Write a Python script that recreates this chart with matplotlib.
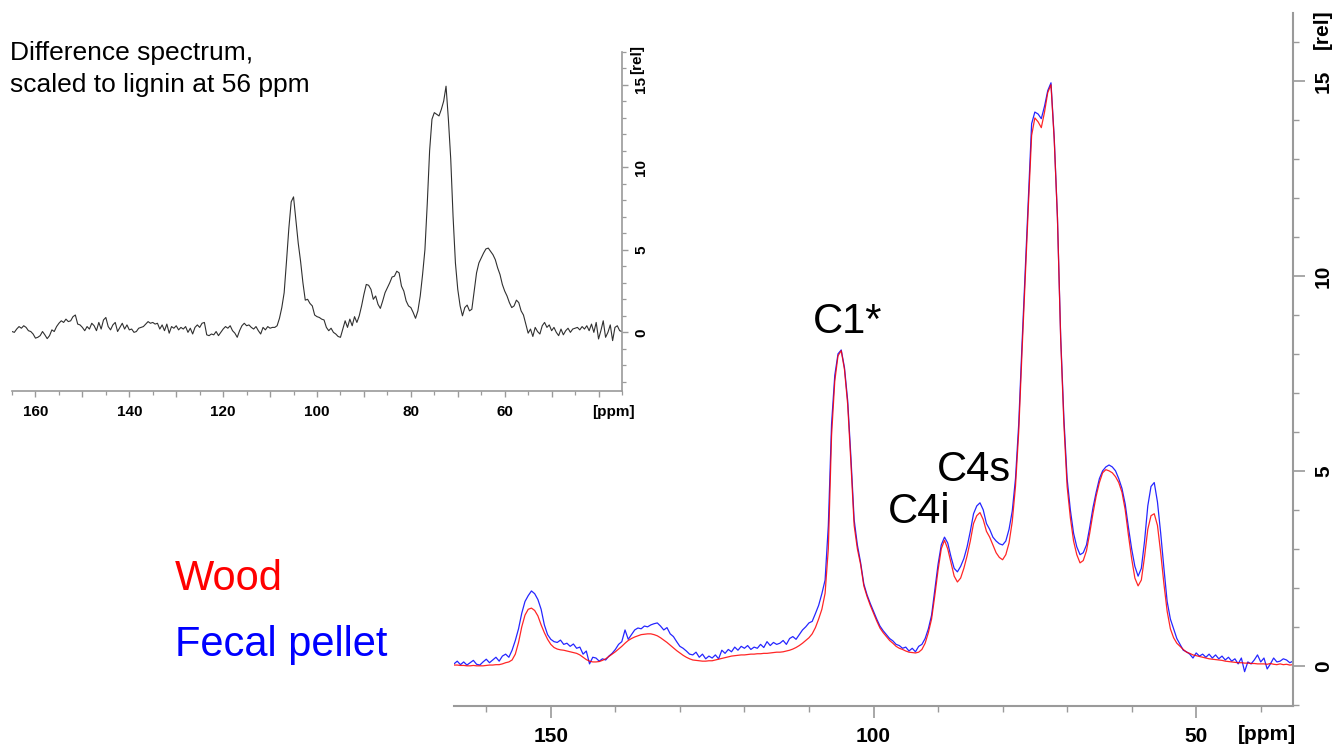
import numpy as np
import matplotlib
matplotlib.use("Agg")
import matplotlib.pyplot as plt
from matplotlib.ticker import FixedLocator, MultipleLocator, NullFormatter, FuncFormatter

plt.rcParams['font.family'] = ['Liberation Sans', 'DejaVu Sans']

# ---------------- data (chemical shift grid, 165 -> 35 ppm in 0.5 ppm steps) ----------------
PPM_START, PPM_END, PPM_STEP = 165.0, 35.0, 0.5

wood = [
    0.02, 0.02, 0.01, 0.01, 0.00, 0.00, 0.01, 0.00, 0.00, 0.00,   # 165.0-160.5
    0.01, 0.02, 0.02, 0.03, 0.03, 0.05, 0.08, 0.10, 0.15, 0.30,   # 160.0-155.5
    0.60, 1.00, 1.30, 1.45, 1.48, 1.42, 1.28, 1.05, 0.85, 0.68,   # 155.0-150.5
    0.55, 0.47, 0.43, 0.41, 0.40, 0.38, 0.36, 0.34, 0.32, 0.28,   # 150.0-145.5
    0.22, 0.16, 0.12, 0.10, 0.10, 0.11, 0.14, 0.18, 0.24, 0.30,   # 145.0-140.5
    0.36, 0.43, 0.50, 0.58, 0.65, 0.70, 0.74, 0.77, 0.80, 0.81,   # 140.0-135.5
    0.82, 0.82, 0.80, 0.77, 0.72, 0.66, 0.60, 0.53, 0.46, 0.39,   # 135.0-130.5
    0.33, 0.27, 0.22, 0.18, 0.15, 0.14, 0.13, 0.12, 0.12, 0.13,   # 130.0-125.5
    0.13, 0.15, 0.17, 0.19, 0.21, 0.23, 0.25, 0.26, 0.27, 0.28,   # 125.0-120.5
    0.28, 0.29, 0.30, 0.30, 0.31, 0.31, 0.32, 0.32, 0.33, 0.34,   # 120.0-115.5
    0.35, 0.35, 0.36, 0.38, 0.40, 0.43, 0.47, 0.52, 0.58, 0.65,   # 115.0-110.5
    0.72, 0.82, 0.98, 1.20, 1.45, 1.86, 3.00, 5.90, 7.30, 7.95,   # 110.0-105.5
    8.08, 7.60, 6.70, 5.20, 3.60, 3.00, 2.60, 2.05, 1.78, 1.55,   # 105.0-100.5
    1.35, 1.15, 0.97, 0.85, 0.75, 0.65, 0.58, 0.50, 0.45, 0.42,   # 100.0-95.5
    0.38, 0.35, 0.34, 0.33, 0.35, 0.42, 0.58, 0.85, 1.20, 1.80,   # 95.0-90.5
    2.45, 3.00, 3.22, 3.00, 2.65, 2.30, 2.15, 2.25, 2.50, 2.82,   # 90.0-85.5
    3.20, 3.65, 3.85, 3.93, 3.75, 3.45, 3.30, 3.10, 2.90, 2.78,   # 85.0-80.5
    2.72, 2.85, 3.15, 3.70, 4.60, 6.00, 8.00, 9.90, 11.80, 13.60, # 80.0-75.5
    14.05, 13.95, 13.80, 14.20, 14.70, 14.90, 13.50, 11.50, 8.40, 6.20,  # 75.0-70.5
    4.60, 3.80, 3.20, 2.85, 2.64, 2.70, 2.95, 3.40, 3.90, 4.35,   # 70.0-65.5
    4.70, 4.95, 5.03, 5.00, 4.95, 4.85, 4.70, 4.45, 4.00, 3.35,   # 65.0-60.5
    2.75, 2.25, 2.05, 2.20, 2.80, 3.50, 3.85, 3.90, 3.60, 2.90,   # 60.0-55.5
    2.10, 1.40, 0.95, 0.72, 0.58, 0.50, 0.42, 0.35, 0.32, 0.28,   # 55.0-50.5
    0.26, 0.24, 0.22, 0.20, 0.18, 0.17, 0.16, 0.15, 0.14, 0.12,   # 50.0-45.5
    0.11, 0.10, 0.09, 0.08, 0.08, 0.07, 0.07, 0.06, 0.06, 0.05,   # 45.0-40.5
    0.05, 0.05, 0.04, 0.06, 0.04, 0.03, 0.05, 0.03, 0.04, 0.02,   # 40.0-35.5
    0.03,                                                         # 35.0
]

fecal_pellet = [
    0.05, 0.12, 0.03, 0.10, 0.02, 0.08, 0.14, 0.04, 0.02, 0.10,   # 165.0-160.5
    0.17, 0.08, 0.15, 0.22, 0.12, 0.25, 0.30, 0.22, 0.40, 0.65,   # 160.0-155.5
    0.95, 1.35, 1.65, 1.80, 1.92, 1.85, 1.70, 1.45, 1.05, 0.80,   # 155.0-150.5
    0.68, 0.62, 0.60, 0.66, 0.55, 0.58, 0.50, 0.56, 0.45, 0.48,   # 150.0-145.5
    0.30, 0.38, 0.05, 0.22, 0.20, 0.12, 0.18, 0.15, 0.25, 0.32,   # 145.0-140.5
    0.42, 0.55, 0.62, 0.92, 0.68, 0.80, 0.92, 0.97, 0.95, 1.02,   # 140.0-135.5
    1.00, 1.05, 1.08, 1.10, 1.02, 0.92, 0.98, 0.82, 0.75, 0.62,   # 135.0-130.5
    0.50, 0.45, 0.38, 0.30, 0.28, 0.35, 0.22, 0.30, 0.18, 0.25,   # 130.0-125.5
    0.20, 0.28, 0.18, 0.40, 0.32, 0.42, 0.36, 0.48, 0.40, 0.50,   # 125.0-120.5
    0.45, 0.52, 0.42, 0.48, 0.45, 0.55, 0.47, 0.62, 0.52, 0.60,   # 120.0-115.5
    0.55, 0.58, 0.65, 0.55, 0.70, 0.75, 0.68, 0.80, 0.92, 1.00,   # 115.0-110.5
    1.10, 1.14, 1.34, 1.55, 1.85, 2.20, 3.60, 6.20, 7.45, 8.00,   # 110.0-105.5
    8.10, 7.65, 6.80, 5.35, 3.75, 3.10, 2.65, 2.10, 1.82, 1.60,   # 105.0-100.5
    1.40, 1.20, 1.02, 0.90, 0.80, 0.70, 0.64, 0.55, 0.52, 0.45,   # 100.0-95.5
    0.48, 0.38, 0.45, 0.36, 0.50, 0.55, 0.70, 0.95, 1.30, 1.95,   # 95.0-90.5
    2.60, 3.10, 3.30, 3.15, 2.80, 2.50, 2.41, 2.55, 2.75, 3.05,   # 90.0-85.5
    3.45, 3.90, 4.10, 4.18, 4.00, 3.65, 3.50, 3.30, 3.20, 3.13,   # 85.0-80.5
    3.10, 3.20, 3.50, 3.97, 4.80, 6.20, 8.20, 10.10, 12.00, 13.90,  # 80.0-75.5
    14.20, 14.15, 14.03, 14.35, 14.75, 14.95, 13.55, 11.50, 8.45, 6.35,  # 75.0-70.5
    4.80, 4.00, 3.40, 3.05, 2.85, 2.90, 3.10, 3.55, 4.05, 4.45,   # 70.0-65.5
    4.80, 5.00, 5.10, 5.15, 5.10, 5.00, 4.80, 4.55, 4.15, 3.55,   # 65.0-60.5
    3.00, 2.55, 2.30, 2.50, 3.20, 4.10, 4.60, 4.70, 4.20, 3.40,   # 60.0-55.5
    2.50, 1.65, 1.20, 0.95, 0.70, 0.55, 0.40, 0.36, 0.30, 0.20,   # 55.0-50.5
    0.33, 0.25, 0.30, 0.22, 0.30, 0.20, 0.28, 0.18, 0.25, 0.15,   # 50.0-45.5
    0.22, 0.12, 0.18, 0.05, 0.20, -0.15, 0.10, 0.05, 0.15, 0.28,  # 45.0-40.5
    0.10, 0.20, -0.08, 0.05, 0.20, 0.10, 0.12, 0.18, 0.15, 0.08,  # 40.0-35.5
    0.12,                                                         # 35.0
]

difference = [
    0.05, 0.00, 0.20, 0.35, 0.25, 0.40, 0.30, 0.10, 0.05, -0.10,  # 165.0-160.5
    -0.35, -0.30, -0.20, 0.05, -0.15, -0.38, -0.20, 0.15, 0.05, 0.35,  # 160.0-155.5
    0.55, 0.70, 0.60, 0.80, 0.65, 0.70, 0.95, 1.05, 0.50, 0.45,   # 155.0-150.5
    0.30, 0.10, 0.35, 0.20, 0.55, 0.40, 0.10, 0.60, 0.20, 0.75,   # 150.0-145.5
    0.90, 0.35, 0.15, 0.45, 0.60, 0.05, 0.30, 0.55, 0.20, 0.45,   # 145.0-140.5
    0.15, 0.20, 0.00, 0.05, 0.25, 0.30, 0.35, 0.50, 0.65, 0.55,   # 140.0-135.5
    0.60, 0.50, 0.55, 0.20, 0.45, 0.10, 0.50, -0.05, 0.35, 0.25,  # 135.0-130.5
    0.40, 0.15, 0.30, 0.20, 0.35, 0.00, 0.25, -0.10, 0.30, 0.45,  # 130.0-125.5
    0.30, 0.55, 0.60, -0.15, -0.20, -0.10, -0.15, 0.05, -0.20, 0.00,  # 125.0-120.5
    0.20, 0.35, 0.25, 0.40, 0.10, -0.05, -0.30, 0.10, 0.40, 0.55,  # 120.0-115.5
    0.40, 0.45, 0.30, 0.20, 0.35, 0.10, -0.10, 0.30, 0.15, 0.35,  # 115.0-110.5
    0.25, 0.30, 0.30, 0.40, 0.85, 1.50, 2.40, 4.30, 6.30, 7.90,   # 110.0-105.5
    8.20, 6.80, 5.40, 4.30, 3.00, 1.95, 2.00, 1.75, 1.60, 1.05,   # 105.0-100.5
    0.95, 0.90, 0.80, 0.75, 0.30, 0.10, 0.25, 0.00, -0.10, -0.25,  # 100.0-95.5
    -0.30, 0.20, 0.70, 0.30, 0.80, 0.40, 0.95, 0.60, 1.00, 1.60,  # 95.0-90.5
    2.30, 2.90, 2.85, 2.60, 2.00, 2.20, 1.70, 1.45, 1.90, 2.40,   # 90.0-85.5
    2.70, 3.00, 3.35, 3.40, 3.70, 3.60, 2.80, 2.50, 1.90, 1.60,   # 85.0-80.5
    1.50, 1.20, 0.85, 1.30, 2.20, 3.50, 5.00, 7.80, 11.00, 12.90,  # 80.0-75.5
    13.30, 13.20, 13.10, 13.50, 14.00, 14.90, 12.90, 10.50, 7.00, 4.20,  # 75.0-70.5
    2.60, 1.60, 1.00, 1.50, 1.65, 1.30, 1.40, 2.50, 3.60, 4.20,   # 70.0-65.5
    4.50, 4.80, 5.05, 5.10, 4.90, 4.70, 4.40, 3.90, 3.50, 2.90,   # 65.0-60.5
    2.50, 2.20, 1.80, 1.50, 1.60, 1.95, 1.80, 1.30, 1.05, 0.50,   # 60.0-55.5
    -0.05, 0.20, -0.25, 0.30, 0.05, -0.10, 0.40, 0.60, 0.30, 0.45,  # 55.0-50.5
    0.10, 0.30, 0.00, -0.20, 0.20, -0.15, 0.10, 0.25, 0.00, 0.20,  # 50.0-45.5
    0.25, 0.30, 0.15, 0.35, 0.20, 0.40, 0.10, 0.50, 0.00, 0.60,   # 45.0-40.5
    -0.40, 0.10, 0.70, -0.30, 0.00, 0.45, -0.50, 0.30, 0.40, 0.10,  # 40.0-35.5
    0.05,                                                         # 35.0
]

main_xticks_labeled = [150, 100, 50]
inset_xticks_labeled = [160, 140, 120, 100, 80, 60]
yticks_labeled = [0, 5, 10, 15]

series_labels = ["Wood", "Fecal pellet"]
peak_labels = ["C1*", "C4i", "C4s"]
peak_label_pos = [(104.0, 8.54), (93.0, 3.67), (84.4, 4.74)]

# ---------------- figure ----------------
W, H = 1341, 751
fig = plt.figure(figsize=(W / 100, H / 100), dpi=100)

n = int(round((PPM_START - PPM_END) / PPM_STEP)) + 1
ppm = PPM_START - PPM_STEP * np.arange(n)
assert len(wood) == n and len(fecal_pellet) == n and len(difference) == n

SPINE = '#9a9a9a'

def px_axes(l, t, r, b):
    return fig.add_axes([l / W, 1 - b / H, (r - l) / W, (b - t) / H])

def style(ax, big):
    ax.set_facecolor('none')
    for s in ('top', 'left'):
        ax.spines[s].set_visible(False)
    for s in ('bottom', 'right'):
        ax.spines[s].set_color(SPINE)
        ax.spines[s].set_linewidth(1.5 if big else 1.2)
    ax.yaxis.tick_right()
    ax.xaxis.tick_bottom()

# main axes
ax = px_axes(454, 13, 1293, 706)
style(ax, True)
ax.plot(ppm, fecal_pellet, color='#0000ff', lw=0.9, alpha=0.85)
ax.plot(ppm, wood, color='#ff0000', lw=0.9, alpha=0.85)
ax.set_xlim(PPM_START, PPM_END)
ax.set_ylim(-1.03, 16.74)
ax.xaxis.set_major_locator(FixedLocator(main_xticks_labeled))
ax.xaxis.set_minor_locator(MultipleLocator(10))
ax.yaxis.set_major_locator(FixedLocator(yticks_labeled))
ax.yaxis.set_minor_locator(MultipleLocator(1))
ax.xaxis.set_major_formatter(FuncFormatter(lambda v, p: f"{v:.0f}"))
ax.yaxis.set_major_formatter(FuncFormatter(lambda v, p: f"{v:.0f}"))
ax.tick_params(axis='both', which='major', direction='out', length=8.6, width=1.2,
               color=SPINE, labelsize=15, pad=6.5)
ax.tick_params(axis='both', which='minor', direction='out', length=4.3, width=1.0, color=SPINE)
ax.tick_params(axis='y', labelrotation=90)
for lab in ax.get_xticklabels() + ax.get_yticklabels():
    lab.set_fontweight('bold')
for lab in ax.get_yticklabels():
    lab.set_va('center')
fig.text(1267 / W, 1 - 735 / H, '[ppm]', fontsize=15, fontweight='bold', ha='center', va='center')
fig.text(1322 / W, 1 - 29 / H, '[rel]', fontsize=15, fontweight='bold', ha='center', va='center',
         rotation=90)

for txt, (xp, yp) in zip(peak_labels, peak_label_pos):
    ax.text(xp, yp, txt, fontsize=30, ha='center', va='baseline', color='black')

fig.text(175 / W, 1 - 590 / H, series_labels[0], fontsize=30, color='#ff0000', va='baseline')
fig.text(175 / W, 1 - 656 / H, series_labels[1], fontsize=30, color='#0000ff', va='baseline')

# inset axes (difference spectrum)
ai = px_axes(12, 51.5, 622, 391)
style(ai, False)
ai.plot(ppm, difference, color='#303030', lw=0.8)
ai.set_xlim(PPM_START, PPM_END)
ai.set_ylim(-3.55, 17.0)
ai.xaxis.set_major_locator(MultipleLocator(10))
ai.xaxis.set_minor_locator(MultipleLocator(5))
ai.xaxis.set_major_formatter(FuncFormatter(
    lambda v, p: f"{v:.0f}" if int(round(v)) in inset_xticks_labeled else ""))
ai.yaxis.set_major_locator(FixedLocator(yticks_labeled))
ai.yaxis.set_minor_locator(MultipleLocator(1))
ai.yaxis.set_major_formatter(FuncFormatter(lambda v, p: f"{v:.0f}"))
ai.tick_params(axis='both', which='major', direction='out', length=4.3, width=1.0,
               color=SPINE, labelsize=11)
ai.tick_params(axis='x', which='major', pad=6)
ai.tick_params(axis='y', which='major', pad=4.7, labelrotation=90)
ai.tick_params(axis='both', which='minor', direction='out', length=2.6, width=0.9, color=SPINE)
for lab in ai.get_xticklabels() + ai.get_yticklabels():
    lab.set_fontweight('bold')
for lab in ai.get_yticklabels():
    lab.set_va('center')
fig.text(613 / W, 1 - 412 / H, '[ppm]', fontsize=11, fontweight='bold', ha='center', va='center')
fig.text(637 / W, 1 - 60 / H, '[rel]', fontsize=11, fontweight='bold', ha='center', va='center',
         rotation=90)

fig.text(10 / W, 1 - 60 / H, 'Difference spectrum,', fontsize=19, va='baseline')
fig.text(10 / W, 1 - 92 / H, 'scaled to lignin at 56 ppm', fontsize=19, va='baseline')

fig.savefig('out.png', dpi=100)
